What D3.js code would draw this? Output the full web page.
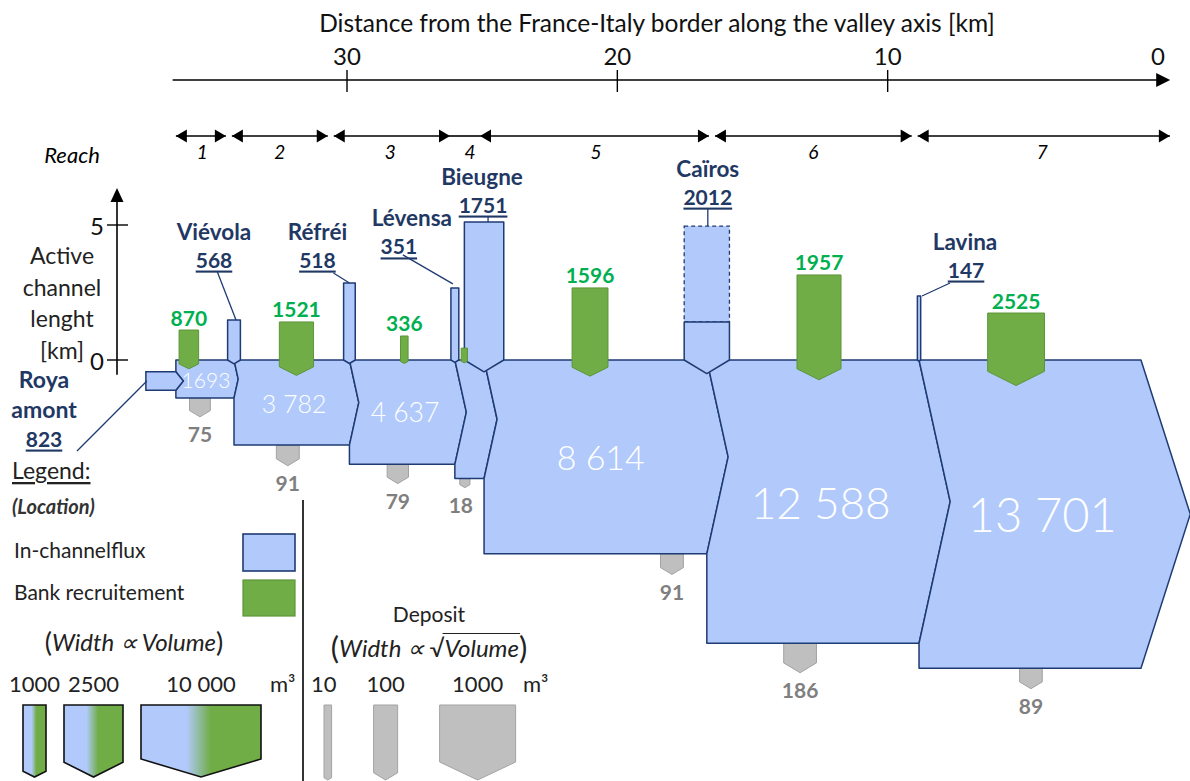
<!DOCTYPE html>
<html>
<head>
<meta charset="utf-8">
<title>Roya sediment budget</title>
<script src="https://cdn.jsdelivr.net/npm/d3@7/dist/d3.min.js"></script>
<style>
  html, body { margin: 0; padding: 0; background: #fff; }
  svg { display: block; }
  text { font-family: Lato, "Open Sans", "Noto Sans", sans-serif; }
</style>
</head>
<body>
<svg id="chart" width="1190" height="781"></svg>
<script>
// ---- data --------------------------------------------------------------
// distance axis (km from the France-Italy border)
const axisTicks = [30, 20, 10, 0];
const axisExtentKm = [36.45, -0.45];

// reaches, bounded by their start / end distance (km)
const reachNames = ["1", "2", "3", "4", "5", "6", "7"];
const reachBoundsKm = [36.33, 34.37, 30.60, 26.19, 25.08, 16.50, 9.00, -0.44];

// active channel length axis (km)
const lengthTicks = [0, 5];
const lengthAxisKm = [-0.55, 6.37];
const lengthTitle = ["Active", "channel", "lenght", "[km]"];

// upstream input
const upstreamName = ["Roya", "amont"];
const upstreamVolume = 823;
const upstreamStartKm = 37.44;

// in-channel flux downstream of each junction (m3)
const fluxVolumes = [1693, 3782, 4637, 5267, 8614, 12588, 13701];
const fluxStartKm = 36.33;
const fluxEndKm = 0.63;

// tributaries
const tribNames = ["Viévola", "Réfréi", "Lévensa", "Bieugne", "Caïros", "Lavina"];
const tribVolumes = [568, 518, 351, 1751, 2012, 147];
const tribKm = [34.18, 29.91, 26.01, 24.93, 16.69, 8.84];
const tribLengthKm = [1.48, 2.85, 2.67, 5.11, 1.41, 2.37];
const tribLengthMaxKm = [null, null, null, null, 4.96, null];

// bank recruitment
const recruitVolumes = [870, 1521, 336, 279, 1596, 1957, 2525];
const recruitLabels = ["870", "1521", "336", "", "1596", "1957", "2525"];
const recruitKm = [35.85, 31.87, 27.88, 25.66, 21.01, 12.54, 5.25];
const recruitLengthKm = [1.11, 1.41, 0.89, 0.44, 2.67, 3.15, 1.74];

// deposits, one per flux segment
const depositVolumes = [75, 91, 79, 18, 91, 186, 89];
const depositKm = [35.44, 32.19, 28.12, 25.64, 17.98, 13.24, 4.70];

// legend
const legendFluxVolumes = [1000, 2500, 10000];
const legendFluxLabels = ["1000", "2500", "10 000"];
const legendDepositVolumes = [10, 100, 1000];
const legendDepositLabels = ["10", "100", "1000"];

// ---- styles ------------------------------------------------------------
const NAVY = "#1f3864", EDGE = "#1f3b73", BLUE = "#b1cafb";
const GREEN = "#70ad47", GREEN_EDGE = "#5d9539", GREEN_TXT = "#00b050";
const GREY = "#bfbfbf", GREY_EDGE = "#a3a3a3", GREY_TXT = "#7f7f7f";
const SERIF = "'Liberation Serif', 'DejaVu Serif', serif";

// ---- scales ------------------------------------------------------------
const x = d3.scaleLinear().domain([30, 0]).range([347, 1158]);
const yLen = d3.scaleLinear().domain([0, 5]).range([360, 225]);
const vol = d3.scaleLinear().domain([0, 1000]).range([0, 22.5]);
const dep = d3.scaleSqrt().domain([0, 1000]).range([0, 76]);
const labelSize = d3.scaleLinear().domain([1693, 8614, 13701]).range([21, 34, 47]);
const legendWidth = d3.scaleLinear().domain([1000, 2500, 10000]).range([23, 59, 120]);
const y0 = yLen(0);

const spaced = d3.formatLocale({decimal: ".", thousands: " ", grouping: [3], currency: ["", ""]}).format(",d");
const fmtFlux = v => v < 2000 ? String(v) : spaced(v);

const svg = d3.select("#chart");
const line = d3.line();
const poly = pts => line(pts) + "Z";

function arrowHead(g, tx, ty, dir, len, half) {
  let pts;
  if (dir === "r") pts = [[tx, ty], [tx - len, ty - half], [tx - len, ty + half]];
  else if (dir === "l") pts = [[tx, ty], [tx + len, ty - half], [tx + len, ty + half]];
  else pts = [[tx, ty], [tx - half, ty + len], [tx + half, ty + len]];
  g.append("path").attr("d", poly(pts)).attr("fill", "#000");
}

// ---- distance axis -----------------------------------------------------
const axisY = 80;
const gAxis = svg.append("g");
gAxis.append("text")
  .attr("x", 657).attr("y", 22).attr("dominant-baseline", "central")
  .attr("text-anchor", "middle").attr("font-size", 24.5).attr("fill", "#111")
  .text("Distance from the France-Italy border along the valley axis [km]");
gAxis.append("line")
  .attr("x1", x(axisExtentKm[0])).attr("x2", x(axisExtentKm[1]) - 8)
  .attr("y1", axisY).attr("y2", axisY).attr("stroke", "#000").attr("stroke-width", 1.6);
arrowHead(gAxis, x(axisExtentKm[1]), axisY, "r", 14, 7);
axisTicks.forEach(t => {
  if (t !== 0) {
    gAxis.append("line").attr("x1", x(t)).attr("x2", x(t))
      .attr("y1", axisY - 10).attr("y2", axisY + 12)
      .attr("stroke", "#000").attr("stroke-width", 1.4);
  }
  gAxis.append("text").attr("x", x(t)).attr("y", 55)
    .attr("dominant-baseline", "central").attr("text-anchor", "middle")
    .attr("font-size", 24).attr("fill", "#111").text(t);
});

// ---- reaches -----------------------------------------------------------
const reachY = 136;
const gReach = svg.append("g");
gReach.append("text").attr("x", 72).attr("y", 154).attr("dominant-baseline", "central")
  .attr("text-anchor", "middle").attr("font-size", 22).attr("font-style", "italic").text("Reach");
const hasHeads = i => reachNames[i] !== "4";
reachNames.forEach((name, i) => {
  const a = x(reachBoundsKm[i]), b = x(reachBoundsKm[i + 1]);
  const left = a + (i > 0 && hasHeads(i - 1) && hasHeads(i) ? 3 : 0);
  const right = b - (i < reachNames.length - 1 && hasHeads(i + 1) && hasHeads(i) ? 3 : 0);
  gReach.append("line").attr("x1", left).attr("x2", right).attr("y1", reachY).attr("y2", reachY)
    .attr("stroke", "#000").attr("stroke-width", 1.6);
  if (hasHeads(i)) {
    arrowHead(gReach, left, reachY, "l", 11, 6.5);
    arrowHead(gReach, right, reachY, "r", 11, 6.5);
  }
  gReach.append("text").attr("x", (a + b) / 2 + (hasHeads(i) ? 0 : 5)).attr("y", 151)
    .attr("dominant-baseline", "central").attr("text-anchor", "middle")
    .attr("font-size", 19).attr("font-style", "italic").text(name);
});

// ---- active channel length axis -----------------------------------------
const yAxisX = 117;
const gLen = svg.append("g");
gLen.append("line").attr("x1", yAxisX).attr("x2", yAxisX)
  .attr("y1", yLen(lengthAxisKm[0])).attr("y2", yLen(lengthAxisKm[1]) + 10)
  .attr("stroke", "#000").attr("stroke-width", 1.6);
arrowHead(gLen, yAxisX, yLen(lengthAxisKm[1]), "u", 14, 6.5);
lengthTicks.forEach(t => {
  gLen.append("line").attr("x1", yAxisX - 10).attr("x2", yAxisX + 11)
    .attr("y1", yLen(t)).attr("y2", yLen(t)).attr("stroke", "#000").attr("stroke-width", 1.4);
  gLen.append("text").attr("x", 104).attr("y", yLen(t)).attr("dominant-baseline", "central")
    .attr("text-anchor", "end").attr("font-size", 24).attr("fill", "#111").text(t);
});
lengthTitle.forEach((s, i) => {
  gLen.append("text").attr("x", 62).attr("y", 255 + i * 31.5).attr("dominant-baseline", "central")
    .attr("text-anchor", "middle").attr("font-size", 23).attr("fill", "#222").text(s);
});

// ---- flux geometry -----------------------------------------------------
const blockStart = [fluxStartKm, ...tribKm];
const blockEnd = [...tribKm, fluxEndKm];
const blocks = fluxVolumes.map((v, i) => {
  const h = vol(v);
  const last = i === fluxVolumes.length - 1;
  return {v, x0: x(blockStart[i]), x1: x(blockEnd[i]), h, d: h * (last ? 0.16 : 0.11)};
});
const upH = vol(upstreamVolume);
const upCy = y0 + blocks[0].h / 2 + 2;
const upTip = upH * 0.4;

// deposits sit under each flux segment
const gDep = svg.append("g");
depositVolumes.forEach((v, i) => {
  const w = dep(v), cx = x(depositKm[i]), top = y0 + blocks[i].h;
  const rb = top + w * 0.6, tip = top + w * 0.9;
  gDep.append("path")
    .attr("d", poly([[cx - w / 2, top], [cx + w / 2, top], [cx + w / 2, rb], [cx, tip], [cx - w / 2, rb]]))
    .attr("fill", GREY).attr("stroke", GREY_EDGE).attr("stroke-width", 1);
  gDep.append("text").attr("x", cx - (i === 3 ? 4 : 0)).attr("y", tip + 17)
    .attr("dominant-baseline", "central").attr("text-anchor", "middle")
    .attr("font-size", 21).attr("font-weight", 700).attr("fill", GREY_TXT).text(v);
});

// in-channel flux segments
const gFlux = svg.append("g");
blocks.forEach((b, i) => {
  const pts = [[b.x0, y0], [b.x1, y0], [b.x1 + b.d, y0 + b.h / 2], [b.x1, y0 + b.h], [b.x0, y0 + b.h]];
  if (i === 0) {
    pts.push([b.x0, upCy + upH / 2], [b.x0 + upTip, upCy], [b.x0, upCy - upH / 2]);
  } else {
    const p = blocks[i - 1];
    pts.push([b.x0, y0 + p.h], [b.x0 + p.d, y0 + p.h / 2]);
  }
  gFlux.append("path").attr("d", poly(pts))
    .attr("fill", BLUE).attr("stroke", EDGE).attr("stroke-width", 1.5).attr("stroke-linejoin", "round");
});
// upstream input bar
gFlux.append("path")
  .attr("d", poly([[x(upstreamStartKm), upCy - upH / 2], [blocks[0].x0, upCy - upH / 2],
    [blocks[0].x0 + upTip, upCy], [blocks[0].x0, upCy + upH / 2], [x(upstreamStartKm), upCy + upH / 2]]))
  .attr("fill", BLUE).attr("stroke", EDGE).attr("stroke-width", 1.5);

// flux values
blocks.forEach(b => {
  if (b.x1 - b.x0 < 45) return;
  gFlux.append("text").attr("x", (b.x0 + b.x1) / 2 + b.d / 4).attr("y", y0 + b.h / 2)
    .attr("dominant-baseline", "central").attr("text-anchor", "middle")
    .attr("font-size", labelSize(b.v)).attr("font-weight", 300).attr("fill", "#fff")
    .text(fmtFlux(b.v));
});

// ---- tributaries ---------------------------------------------------------
const tribLayout = {
  "Viévola": {nx: -20, ny: -89, vx: -20, l0: [-17, -49], l1: [2, 0]},
  "Réfréi":  {nx: -32, ny: -52, vx: -32, l0: [-16, -10], l1: [0, 0]},
  "Lévensa": {nx: -43, ny: -70, vx: -56, l0: [-52, -33], l1: [-2, -4]},
  "Bieugne": {nx: -2,  ny: -46, vx: -1,  l0: [4, -6],    l1: [4, 0]},
  "Caïros":  {nx: 1,   ny: -58, vx: 1,   l0: [1, -17],   l1: [1, 0]},
  "Lavina":  {nx: 46,  ny: -55, vx: 47,  l0: [31, -13],  l1: [3, 0]}
};
const gTrib = svg.append("g");
tribNames.forEach((name, i) => {
  const w = vol(tribVolumes[i]), cx = x(tribKm[i]);
  const top = yLen(tribLengthKm[i]);
  if (tribLengthMaxKm[i] != null) {
    gTrib.append("rect").attr("x", cx - w / 2).attr("y", yLen(tribLengthMaxKm[i]))
      .attr("width", w).attr("height", top - yLen(tribLengthMaxKm[i]))
      .attr("fill", BLUE).attr("stroke", EDGE).attr("stroke-width", 1.3).attr("stroke-dasharray", "4,3");
  }
  gTrib.append("path")
    .attr("d", poly([[cx - w / 2, top], [cx + w / 2, top], [cx + w / 2, y0], [cx, y0 + w * 0.3], [cx - w / 2, y0]]))
    .attr("fill", BLUE).attr("stroke", EDGE).attr("stroke-width", 1.5).attr("stroke-linejoin", "round");

  const anchorY = tribLengthMaxKm[i] != null ? yLen(tribLengthMaxKm[i]) : top;
  const L = tribLayout[name];
  const ny = anchorY + L.ny;
  gTrib.append("text").attr("x", cx + L.nx).attr("y", ny).attr("dominant-baseline", "central")
    .attr("text-anchor", "middle").attr("font-size", 22.5).attr("font-weight", 700).attr("fill", NAVY).text(name);
  gTrib.append("text").attr("x", cx + L.vx).attr("y", ny + 28).attr("dominant-baseline", "central")
    .attr("text-anchor", "middle").attr("font-size", 21).attr("font-weight", 700).attr("fill", NAVY)
    .attr("text-decoration", "underline").text(tribVolumes[i]);
  gTrib.append("line")
    .attr("x1", cx + L.l0[0]).attr("y1", anchorY + L.l0[1])
    .attr("x2", cx + L.l1[0]).attr("y2", anchorY + L.l1[1])
    .attr("stroke", EDGE).attr("stroke-width", 1.3);
});

// upstream label
const gUp = svg.append("g");
[...upstreamName, String(upstreamVolume)].forEach((s, i) => {
  gUp.append("text").attr("x", 44).attr("y", upCy - 2 + i * 29.5).attr("dominant-baseline", "central")
    .attr("text-anchor", "middle").attr("font-size", i < 2 ? 23 : 21).attr("font-weight", 700)
    .attr("fill", NAVY).attr("text-decoration", i === 2 ? "underline" : null).text(s);
});
gUp.append("line").attr("x1", 77).attr("y1", upCy + 70).attr("x2", x(upstreamStartKm) + 1).attr("y2", upCy)
  .attr("stroke", EDGE).attr("stroke-width", 1.3);

// ---- bank recruitment ----------------------------------------------------
const gRec = svg.append("g");
recruitVolumes.forEach((v, i) => {
  const w = vol(v), cx = x(recruitKm[i]), top = yLen(recruitLengthKm[i]);
  const rb = y0 + w * 0.2, tip = y0 + w * 0.45;
  gRec.append("path")
    .attr("d", poly([[cx - w / 2, top], [cx + w / 2, top], [cx + w / 2, rb], [cx, tip], [cx - w / 2, rb]]))
    .attr("fill", GREEN).attr("stroke", GREEN_EDGE).attr("stroke-width", 1);
  if (recruitLabels[i]) {
    gRec.append("text").attr("x", cx).attr("y", top - 13).attr("dominant-baseline", "central")
      .attr("text-anchor", "middle").attr("font-size", 21).attr("font-weight", 700)
      .attr("fill", GREEN_TXT).text(recruitLabels[i]);
  }
});

// ---- legend --------------------------------------------------------------
const gLeg = svg.append("g");
gLeg.append("text").attr("x", 12).attr("y", 470).attr("dominant-baseline", "central")
  .attr("font-size", 23).attr("text-decoration", "underline").attr("fill", "#222").text("Legend:");
gLeg.append("text").attr("x", 12).attr("y", 506).attr("dominant-baseline", "central")
  .attr("font-size", 20).attr("font-style", "italic").attr("font-weight", 700).attr("fill", "#333").text("(Location)");
gLeg.append("text").attr("x", 14).attr("y", 549).attr("dominant-baseline", "central")
  .attr("font-size", 21).attr("fill", "#222").text("In-channelflux");
gLeg.append("text").attr("x", 14).attr("y", 591).attr("dominant-baseline", "central")
  .attr("font-size", 21).attr("fill", "#222").text("Bank recruitement");
gLeg.append("rect").attr("x", 243).attr("y", 534).attr("width", 52).attr("height", 37)
  .attr("fill", BLUE).attr("stroke", EDGE).attr("stroke-width", 1.6);
gLeg.append("rect").attr("x", 243).attr("y", 580).attr("width", 52).attr("height", 36)
  .attr("fill", GREEN).attr("stroke", GREEN_EDGE).attr("stroke-width", 1.2);
gLeg.append("line").attr("x1", 303).attr("x2", 303).attr("y1", 500).attr("y2", 781)
  .attr("stroke", "#000").attr("stroke-width", 1.6);

// math captions
function caption(cx, cy, parts) {
  const t = gLeg.append("text").attr("x", cx).attr("y", cy).attr("dominant-baseline", "central")
    .attr("text-anchor", "middle").attr("font-family", SERIF).attr("fill", "#222");
  parts.forEach(p => {
    t.append("tspan").text(p.s).attr("font-size", p.size || 24)
      .attr("font-style", p.italic ? "italic" : "normal");
  });
  return t;
}
caption(134, 641, [{s: "(", size: 27}, {s: "Width ∝ Volume", italic: true}, {s: ")", size: 27}]);
gLeg.append("text").attr("x", 429).attr("y", 613).attr("dominant-baseline", "central")
  .attr("text-anchor", "middle").attr("font-size", 21).attr("fill", "#222").text("Deposit");
const sq = caption(429, 647, [{s: "(", size: 31}, {s: "Width ∝ ", italic: true}, {s: "√"},
  {s: "Volume", italic: true}, {s: ")", size: 31}]);
{
  const node = sq.node();
  const start = node.textContent.indexOf("Volume");
  const sx = node.getStartPositionOfChar(start).x;
  const ex = node.getEndPositionOfChar(start + 5).x;
  const bb = node.getExtentOfChar(start);
  gLeg.append("line").attr("x1", sx - 2).attr("x2", ex + 1)
    .attr("y1", bb.y + 1).attr("y2", bb.y + 1).attr("stroke", "#222").attr("stroke-width", 1.2);
}

// flux width legend
const gradient = svg.append("defs").append("linearGradient").attr("id", "blueGreen")
  .attr("x1", "0%").attr("x2", "100%").attr("y1", "0%").attr("y2", "0%");
[[0, BLUE], [0.38, BLUE], [0.58, GREEN], [1, GREEN]].forEach(([o, c]) =>
  gradient.append("stop").attr("offset", o).attr("stop-color", c));
const legTop = 705, legTip = 777, legLabelY = 683;
let lx = 23;
legendFluxVolumes.forEach((v, i) => {
  const w = legendWidth(v), c = Math.min(w * 0.25, 18);
  gLeg.append("path")
    .attr("d", poly([[lx, legTop], [lx + w, legTop], [lx + w, legTip - c], [lx + w / 2, legTip], [lx, legTip - c]]))
    .attr("fill", "url(#blueGreen)").attr("stroke", "#111").attr("stroke-width", 1.6);
  gLeg.append("text").attr("x", lx + w / 2).attr("y", legLabelY).attr("dominant-baseline", "central")
    .attr("text-anchor", "middle").attr("font-size", 22).attr("fill", "#222").text(legendFluxLabels[i]);
  lx += w + 18;
});
gLeg.append("text").attr("x", 270).attr("y", legLabelY).attr("dominant-baseline", "central")
  .attr("font-size", 22).attr("fill", "#222").text("m³");

// deposit width legend
lx = 324;
legendDepositVolumes.forEach((v, i) => {
  const w = dep(v), c = Math.min(w * 0.3, 18);
  gLeg.append("path")
    .attr("d", poly([[lx, legTop], [lx + w, legTop], [lx + w, legTip + 3 - c], [lx + w / 2, legTip + 3], [lx, legTip + 3 - c]]))
    .attr("fill", GREY).attr("stroke", GREY_EDGE).attr("stroke-width", 1);
  gLeg.append("text").attr("x", lx + w / 2 - (i === 0 ? 4 : 0)).attr("y", legLabelY).attr("dominant-baseline", "central")
    .attr("text-anchor", "middle").attr("font-size", 22).attr("fill", "#222").text(legendDepositLabels[i]);
  lx += w + 42;
});
gLeg.append("text").attr("x", 523).attr("y", legLabelY).attr("dominant-baseline", "central")
  .attr("font-size", 22).attr("fill", "#222").text("m³");
</script>
</body>
</html>
